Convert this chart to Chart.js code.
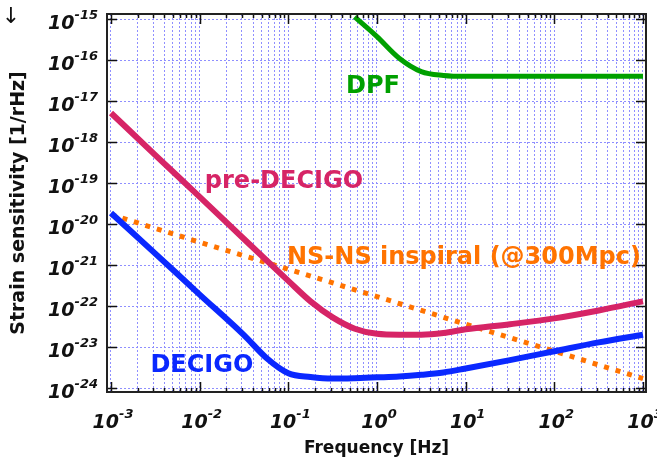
<!DOCTYPE html>
<html>
<head>
<meta charset="utf-8">
<script src="https://cdn.jsdelivr.net/npm/chart.js@4.4.0/dist/chart.umd.min.js"></script>
<style>
    html, body { margin: 0; padding: 0; background: #fff; }
    #wrap { width: 657px; height: 462px; }
</style>
</head>
<body>
<div id="wrap"><canvas id="chart" width="657" height="462"></canvas></div>
<script>
// values
const freqDpf = [0.56, 1, 1.78, 3.16, 5.62, 10, 100, 1000];
const strainDpf = [1.12e-15, 3.7e-16, 1.1e-16, 5.2e-17, 4.2e-17, 4.0e-17, 4.0e-17, 4.0e-17];

const freqPreDecigo = [0.001, 0.00316, 0.01, 0.0316, 0.1, 0.178, 0.316, 0.562, 1, 1.78, 3.16, 5.62, 10, 31.6, 100, 316, 1000];
const strainPreDecigo = [5.1e-18, 4.8e-19, 4.6e-20, 4.3e-21, 4.1e-22, 1.3e-22, 5.3e-23, 2.8e-23, 2.1e-23, 2.0e-23, 2.0e-23, 2.2e-23, 2.7e-23, 3.6e-23, 5.0e-23, 7.8e-23, 1.3e-22];

const freqDecigo = [0.001, 0.00316, 0.01, 0.0316, 0.0562, 0.1, 0.178, 0.316, 0.562, 1, 1.78, 3.16, 5.62, 10, 31.6, 100, 316, 1000];
const strainDecigo = [1.86e-20, 1.9e-21, 1.9e-22, 1.95e-23, 5.5e-24, 2.3e-24, 1.86e-24, 1.7e-24, 1.74e-24, 1.82e-24, 1.91e-24, 2.1e-24, 2.4e-24, 3.0e-24, 4.8e-24, 7.9e-24, 1.3e-23, 2.0e-23];

const freqNsns = [0.001, 0.01, 0.1, 1, 10, 100, 1000];
const strainNsns = [1.7e-20, 3.6e-21, 7.9e-22, 1.7e-22, 3.6e-23, 7.9e-24, 1.7e-24];

const xTickPowers = [-3, -2, -1, 0, 1, 2, 3];
const yTickPowers = [-15, -16, -17, -18, -19, -20, -21, -22, -23, -24];

// curve labels, anchored in data space: [text, freq, strain, colour]
const curveLabels = [
    ['DPF', 0.9, 2.2e-17, '#00a000'],
    ['pre-DECIGO', 0.0893, 1.08e-19, '#d62466'],
    ['NS-NS inspiral (@300Mpc)', 9.57, 1.5e-21, '#ff7300'],
    ['DECIGO', 0.0106, 3.4e-24, '#0a28ff']
];

const FONT = '"DejaVu Sans", Verdana, sans-serif';
const GRID_COLOR = '#8f8fff';

function toPoints(xs, ys) {
    return xs.map((x, i) => ({ x: x, y: ys[i] }));
}

// grid at 1..9 x 10^n on x, decades on y
const xGridValues = [];
for (let e = -3; e < 3; e++) {
    for (let m = 1; m <= 9; m++) {
        xGridValues.push(Number((m * Math.pow(10, e)).toPrecision(3)));
    }
}
xGridValues.push(1000);
const yGridValues = yTickPowers.map(p => Math.pow(10, p));

function isDecade(v) {
    const l = Math.log10(v);
    return Math.abs(l - Math.round(l)) < 1e-9;
}

function drawPower(ctx, exp, x, baseline, align) {
    const big = 'italic bold 19px ' + FONT;
    const small = 'italic bold 13px ' + FONT;
    const sup = String(exp);
    ctx.font = big;
    const wb = ctx.measureText('10').width;
    ctx.font = small;
    const ws = ctx.measureText(sup).width;
    const total = wb + ws;
    const start = align === 'right' ? x - total : x - total / 2;
    ctx.textAlign = 'left';
    ctx.textBaseline = 'alphabetic';
    ctx.font = big;
    ctx.fillText('10', start, baseline);
    ctx.font = small;
    ctx.fillText(sup, start + wb, baseline - 10);
}

const framePlugin = {
    id: 'frame',
    afterDatasetsDraw(chart) {
        const { ctx, chartArea: a, scales } = chart;
        const xs = scales.x, ys = scales.y;
        ctx.save();

        // inward tick marks
        ctx.strokeStyle = '#111';
        ctx.lineWidth = 1.5;
        ctx.beginPath();
        xGridValues.forEach(v => {
            const px = Math.round(xs.getPixelForValue(v)) + 0.5;
            const len = isDecade(v) ? 10 : 4;
            ctx.moveTo(px, a.bottom); ctx.lineTo(px, a.bottom - len);
            ctx.moveTo(px, a.top); ctx.lineTo(px, a.top + len);
        });
        yGridValues.forEach(v => {
            const py = Math.round(ys.getPixelForValue(v)) + 0.5;
            ctx.moveTo(a.left, py); ctx.lineTo(a.left + 10, py);
            ctx.moveTo(a.right, py); ctx.lineTo(a.right - 10, py);
        });
        ctx.stroke();

        ctx.lineWidth = 2;
        ctx.strokeStyle = '#222';
        ctx.strokeRect(a.left, a.top, a.right - a.left, a.bottom - a.top);

        // curve labels
        ctx.font = 'bold 24px ' + FONT;
        ctx.textAlign = 'center';
        ctx.textBaseline = 'middle';
        curveLabels.forEach(([text, f, h, color]) => {
            ctx.fillStyle = color;
            ctx.fillText(text, xs.getPixelForValue(f), ys.getPixelForValue(h));
        });

        // tick labels
        ctx.fillStyle = '#111';
        yTickPowers.forEach(p => {
            const py = ys.getPixelForValue(Math.pow(10, p));
            drawPower(ctx, p, a.left - 9, py + 10, 'right');
        });
        xTickPowers.forEach(p => {
            const px = xs.getPixelForValue(Math.pow(10, p));
            drawPower(ctx, p, px + 2, a.bottom + 36, 'center');
        });

        // arrow in the corner
        ctx.font = '22px ' + FONT;
        ctx.textAlign = 'center';
        ctx.textBaseline = 'middle';
        ctx.fillText('\u2193', 11, 17);

        ctx.restore();
    }
};

const ctx = document.getElementById('chart');

new Chart(ctx, {
    type: 'line',
    data: {
        datasets: [
            {
                label: 'DPF',
                data: toPoints(freqDpf, strainDpf),
                borderColor: '#00a000',
                borderWidth: 5,
                cubicInterpolationMode: 'monotone',
                order: 1
            },
            {
                label: 'pre-DECIGO',
                data: toPoints(freqPreDecigo, strainPreDecigo),
                borderColor: '#d62466',
                borderWidth: 6,
                cubicInterpolationMode: 'monotone',
                order: 2
            },
            {
                label: 'DECIGO',
                data: toPoints(freqDecigo, strainDecigo),
                borderColor: '#0a28ff',
                borderWidth: 6,
                cubicInterpolationMode: 'monotone',
                order: 3
            },
            {
                label: 'NS-NS inspiral (@300Mpc)',
                data: toPoints(freqNsns, strainNsns),
                borderColor: '#ff7300',
                borderWidth: 5,
                borderDash: [5, 7],
                tension: 0,
                order: 4
            }
        ]
    },
    options: {
        responsive: false,
        animation: false,
        parsing: false,
        elements: { point: { radius: 0 } },
        layout: { padding: { top: 14, right: 11, left: 0, bottom: 0 } },
        plugins: {
            legend: { display: false },
            tooltip: { enabled: false }
        },
        scales: {
            x: {
                type: 'logarithmic',
                min: Math.pow(10, -3.045),
                max: Math.pow(10, 3.034),
                afterBuildTicks: scale => { scale.ticks = xGridValues.map(v => ({ value: v })); },
                afterFit: scale => { scale.height = 70; },
                ticks: { display: false },
                grid: { color: GRID_COLOR, lineWidth: 1, drawTicks: false },
                border: { display: true, color: '#222', width: 2, dash: [2, 2] },
                title: {
                    display: true,
                    text: 'Frequency [Hz]',
                    color: '#111',
                    font: { family: FONT, weight: 'bold', size: 17 },
                    padding: { top: 0, bottom: 3 }
                }
            },
            y: {
                type: 'logarithmic',
                min: Math.pow(10, -24.073),
                max: Math.pow(10, -14.878),
                afterBuildTicks: scale => { scale.ticks = yGridValues.map(v => ({ value: v })); },
                afterFit: scale => { scale.width = 107; },
                ticks: { display: false },
                grid: { color: GRID_COLOR, lineWidth: 1, drawTicks: false },
                border: { display: true, color: '#222', width: 2, dash: [2, 2] },
                title: {
                    display: true,
                    text: 'Strain sensitivity [1/rHz]',
                    color: '#111',
                    font: { family: FONT, weight: 'bold', size: 19 },
                    padding: { top: 8, bottom: 0 }
                }
            }
        }
    },
    plugins: [framePlugin]
});
</script>
</body>
</html>
